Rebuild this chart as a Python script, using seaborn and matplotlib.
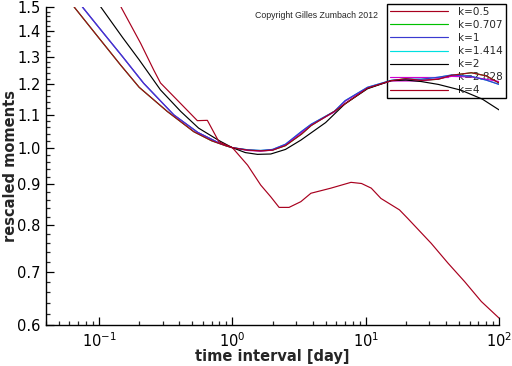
import matplotlib
matplotlib.use('Agg')
import matplotlib.pyplot as plt
import seaborn as sns
from matplotlib.ticker import FixedLocator, NullFormatter, LogLocator

# Values (log-log axes)
x_k05 = [0.065, 0.1, 0.145, 0.2, 0.325, 0.514, 0.7, 0.9, 1.0, 1.3, 1.63, 2.0, 2.5, 3.3, 3.9,
         5.8, 10.3, 15.5, 20, 26, 35, 44, 62, 80, 100]
y_k05 = [1.5, 1.371, 1.269, 1.19, 1.11, 1.047, 1.02, 1.005, 1.0, 0.993, 0.991, 0.993, 1.006, 1.04, 1.066,
         1.11, 1.187, 1.213, 1.22, 1.214, 1.218, 1.232, 1.241, 1.23, 1.205]

x_k1 = [0.075, 0.1, 0.15, 0.216, 0.364, 0.55, 0.8, 1.0, 1.3, 1.63, 2.0, 2.5, 3.3, 3.9,
        5.8, 7.0, 10.3, 15.5, 20, 26, 35, 44, 62, 80, 100]
y_k1 = [1.5, 1.413, 1.30, 1.204, 1.099, 1.045, 1.013, 1.0, 0.994, 0.992, 0.995, 1.01, 1.048, 1.07,
        1.11, 1.145, 1.19, 1.214, 1.218, 1.218, 1.225, 1.233, 1.228, 1.215, 1.20]

x_k2828 = [0.075, 0.1, 0.15, 0.216, 0.364, 0.55, 0.8, 1.0, 1.3, 1.63, 2.0, 2.5, 3.3, 3.9,
           5.8, 7.0, 10.3, 15.5, 20, 26, 35, 44, 62, 80, 100]
y_k2828 = [1.5, 1.413, 1.30, 1.204, 1.099, 1.045, 1.013, 1.0, 0.992, 0.990, 0.993, 1.008, 1.045, 1.068,
           1.108, 1.143, 1.188, 1.212, 1.212, 1.212, 1.22, 1.228, 1.226, 1.218, 1.21]

x_k2 = [0.103, 0.15, 0.2, 0.289, 0.41, 0.558, 0.8, 1.0, 1.25, 1.54, 1.94, 2.5, 3.26, 5.0, 7.0,
        10.3, 15.5, 20, 26, 35, 52, 75, 100]
y_k2 = [1.5, 1.374, 1.288, 1.181, 1.11, 1.058, 1.02, 1.0, 0.986, 0.981, 0.982, 0.995, 1.022, 1.075, 1.135,
        1.185, 1.213, 1.215, 1.21, 1.20, 1.18, 1.15, 1.115]

x_k4 = [0.146, 0.205, 0.257, 0.289, 0.386, 0.546, 0.649, 0.793, 1.0, 1.30, 1.63, 1.94, 2.24, 2.66,
        3.26, 3.88, 5.48, 7.75, 9.3, 11, 13, 17.9, 20.6, 31, 41.4, 55.1, 73.6, 100]
y_k4 = [1.5, 1.351, 1.251, 1.205, 1.147, 1.081, 1.082, 1.017, 1.0, 0.951, 0.898, 0.868, 0.842, 0.842,
        0.856, 0.877, 0.890, 0.905, 0.902, 0.890, 0.864, 0.836, 0.816, 0.759, 0.717, 0.680, 0.642, 0.612]

# k=0.707 and k=1.414 sit underneath the other curves
x_k0707, y_k0707 = x_k05, y_k05
x_k1414, y_k1414 = x_k1, y_k1

y_major = [0.6, 0.7, 0.8, 0.9, 1.0, 1.1, 1.2, 1.3, 1.4, 1.5]
y_minor = [0.62, 0.64, 0.66, 0.68, 0.72, 0.74, 0.76, 0.78, 0.82, 0.84, 0.86, 0.88,
           0.92, 0.94, 0.96, 0.98, 1.02, 1.04, 1.06, 1.08, 1.12, 1.14, 1.16, 1.18,
           1.22, 1.24, 1.26, 1.28, 1.32, 1.34, 1.36, 1.38, 1.42, 1.44, 1.46, 1.48]

sns.set_style('ticks')
plt.rcParams['font.family'] = ['DejaVu Sans']
plt.rcParams['mathtext.fontset'] = 'dejavusans'

fig = plt.figure(figsize=(5.12, 3.66), dpi=100)
ax = fig.add_axes([0.0898, 0.112, 0.885, 0.869])

series = [
    ('k=0.5', x_k05, y_k05, '#a8001e', 2.4),
    ('k=0.707', x_k0707, y_k0707, '#00c000', 1.5),
    ('k=1', x_k1, y_k1, '#3a3ad0', 2.3),
    ('k=1.414', x_k1414, y_k1414, '#00e0e0', 1.5),
    ('k=2', x_k2, y_k2, 'black', 2.3),
    ('k=2.828', x_k2828, y_k2828, '#d000d0', 2.2),
    ('k=4', x_k4, y_k4, '#a8001e', 2.5),
]
for label, xs, ys, color, z in series:
    sns.lineplot(x=xs, y=ys, ax=ax, color=color, lw=0.85, label=label,
                 zorder=z, sort=False, estimator=None)

ax.set_xscale('log')
ax.set_yscale('log')
ax.set_xlim(0.04, 100)
ax.set_ylim(0.6, 1.5)

ax.yaxis.set_major_locator(FixedLocator(y_major))
ax.yaxis.set_major_formatter(plt.FixedFormatter(['%.1f' % v for v in y_major]))
ax.yaxis.set_minor_locator(FixedLocator(y_minor))
ax.yaxis.set_minor_formatter(NullFormatter())
ax.xaxis.set_major_locator(LogLocator(base=10, numticks=10))
ax.xaxis.set_minor_locator(LogLocator(base=10, subs=range(2, 10), numticks=20))
ax.xaxis.set_minor_formatter(NullFormatter())

for s in ['top', 'right']:
    ax.spines[s].set_visible(False)
for s in ['left', 'bottom']:
    ax.spines[s].set_linewidth(1.0)
    ax.spines[s].set_color('black')
ax.tick_params(which='major', direction='in', length=6, width=0.9, labelsize=10.5, colors='black')
ax.tick_params(axis='x', which='major', pad=4.5)
ax.tick_params(axis='y', which='major', pad=4)
ax.tick_params(which='minor', direction='in', length=3, width=0.9)

ax.set_xlabel('time interval [day]', fontsize=10.5, fontweight='bold', labelpad=-1)
ax.set_ylabel('rescaled moments', fontsize=10.5, fontweight='bold', labelpad=-1)

leg = ax.legend(loc='upper right', bbox_to_anchor=(1.0155, 1.0094), fancybox=False,
                edgecolor='black', facecolor='none', fontsize=7.5, handlelength=5.6,
                handletextpad=0.95, borderpad=0.3, labelspacing=0.29, borderaxespad=0)
leg.get_frame().set_linewidth(1.0)
leg.get_frame().set_alpha(None)
leg.set_zorder(1)

fig.text(0.498, 0.959, 'Copyright Gilles Zumbach 2012', fontsize=6.3,
         family='Liberation Sans', va='center')

fig.savefig('out.png', dpi=100)
